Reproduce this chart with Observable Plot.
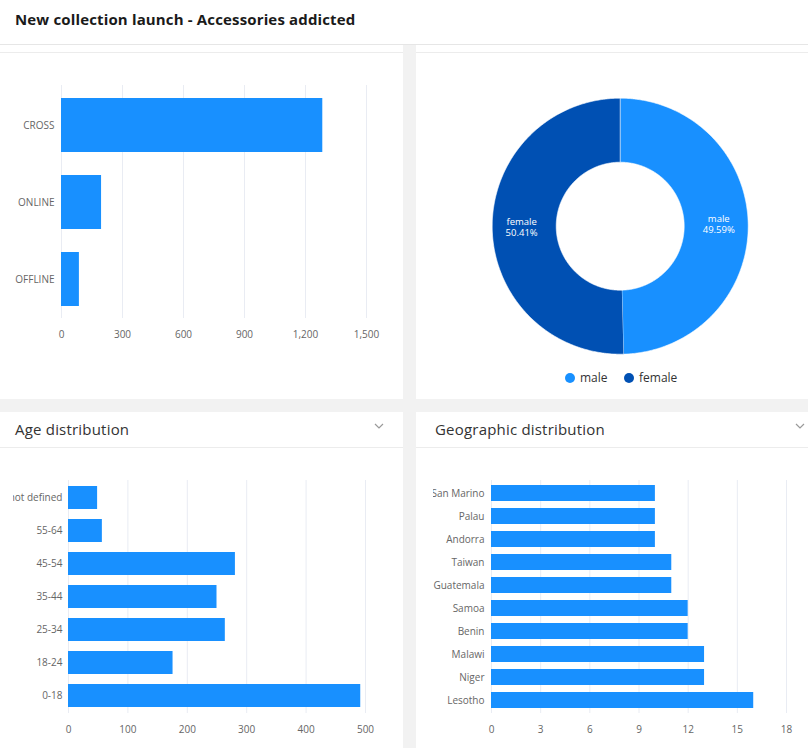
<!DOCTYPE html>
<html><head><meta charset="utf-8">
<script src="https://cdn.jsdelivr.net/npm/d3@7"></script>
<script src="https://cdn.jsdelivr.net/npm/@observablehq/plot@0.6"></script>
<style>
html,body{margin:0;padding:0}
body{width:808px;height:748px;overflow:hidden;background:#f2f2f2;position:relative;font-family:"Open Sans",sans-serif}
.abs{position:absolute}
.panel{position:absolute;background:#fff}
.hline{position:absolute;height:1px;background:#ececec}
.hdr{position:absolute;font-size:15px;color:#333;letter-spacing:0.2px}
.chev{position:absolute}
.clip{position:absolute;overflow:hidden}
.leg{position:absolute;font-size:12px;color:#333;display:flex;align-items:center}
.leg i{display:inline-block;width:10px;height:10px;border-radius:50%;margin-right:5px}
</style></head>
<body>
<div class="abs" style="left:0;top:0;width:808px;height:44px;background:#fff;border-bottom:1px solid #e6e6e6"></div>
<div class="abs" style="left:15px;top:9px;font-size:15px;font-weight:700;color:#1a1a1a;letter-spacing:0.15px">New collection launch - Accessories addicted</div>

<div class="panel" style="left:0;top:45px;width:403px;height:354px"></div>
<div class="panel" style="left:416px;top:45px;width:392px;height:354px"></div>
<div class="hline" style="left:0;top:52px;width:403px"></div>
<div class="hline" style="left:416px;top:52px;width:392px"></div>

<div class="panel" style="left:0;top:412px;width:403px;height:336px"></div>
<div class="panel" style="left:416px;top:412px;width:392px;height:336px"></div>
<div class="hline" style="left:0;top:447px;width:403px"></div>
<div class="hline" style="left:416px;top:447px;width:392px"></div>
<div class="hdr" style="left:15px;top:419px">Age distribution</div>
<div class="hdr" style="left:435px;top:419px">Geographic distribution</div>
<svg class="chev" style="left:374px;top:423px" width="10" height="7"><polyline points="1,1 5,5 9,1" fill="none" stroke="#9a9a9a" stroke-width="1.2"/></svg>
<svg class="chev" style="left:795px;top:423px" width="10" height="7"><polyline points="1,1 5,5 9,1" fill="none" stroke="#9a9a9a" stroke-width="1.2"/></svg>

<div id="c1" class="clip" style="left:0;top:60px;width:403px;height:300px"></div>
<div id="c2" class="clip" style="left:416px;top:60px;width:392px;height:300px"></div>
<div id="c3" class="clip" style="left:13px;top:460px;width:390px;height:288px"></div>
<div id="c4" class="clip" style="left:433px;top:460px;width:375px;height:288px"></div>
<div id="legend"></div>

<script>
// ---- data ----
const channelCats = ["CROSS", "ONLINE", "OFFLINE"];
const channelValues = [1285, 197, 88];
const channelTicks = [0, 300, 600, 900, 1200, 1500];

const genderCats = ["male", "female"];
const genderPct = [49.59, 50.41];
const genderColors = ["#1890ff", "#0050b3"];

const ageCats = ["not defined", "55-64", "45-54", "35-44", "25-34", "18-24", "0-18"];
const ageValues = [49, 57, 281, 250, 264, 176, 492];
const ageTicks = [0, 100, 200, 300, 400, 500];

const geoCats = ["San Marino", "Palau", "Andorra", "Taiwan", "Guatemala", "Samoa", "Benin", "Malawi", "Niger", "Lesotho"];
const geoValues = [10, 10, 10, 11, 11, 12, 12, 13, 13, 16];
const geoTicks = [0, 3, 6, 9, 12, 15, 18];

const BAR = "#1890ff";
const GRID = "#e9ecf3";
const axisStyle = {fontFamily: "'Open Sans', sans-serif", fontSize: "10px", color: "#666", background: "transparent", overflow: "visible"};
const fmt = d3.format(",");

function barChart(cats, values, ticks, o) {
  const data = cats.map((c, i) => ({cat: c, value: values[i]}));
  return Plot.plot({
    width: o.width, height: o.height,
    marginLeft: o.ml, marginRight: o.mr, marginTop: o.mt, marginBottom: o.mb,
    style: axisStyle,
    x: {domain: [ticks[0], ticks[ticks.length - 1]], ticks: ticks, tickSize: 0, tickPadding: o.xpad, tickFormat: d => fmt(d), label: null},
    y: {domain: cats, paddingInner: 0.3, paddingOuter: 0.15, tickSize: 0, tickPadding: o.ypad, label: null},
    marks: [
      Plot.ruleX(ticks, {x: d => d, stroke: GRID, strokeWidth: 1}),
      Plot.barX(data, {x: "value", y: "cat", fill: BAR})
    ]
  });
}

document.getElementById("c1").appendChild(barChart(channelCats, channelValues, channelTicks,
  {width: 403, height: 298, ml: 61, mr: 37, mt: 25, mb: 40, xpad: 12, ypad: 7}));

document.getElementById("c3").appendChild(barChart(ageCats, ageValues, ageTicks,
  {width: 390, height: 288, ml: 55, mr: 38, mt: 20, mb: 35, xpad: 12, ypad: 6}));

document.getElementById("c4").appendChild(barChart(geoCats, geoValues, geoTicks,
  {width: 375, height: 288, ml: 58, mr: 22, mt: 20, mb: 35, xpad: 12, ypad: 7}));

// ---- donut ----
const R1 = 1, R0 = 0.5;
const total = d3.sum(genderPct);
let acc = 0;
const slices = genderCats.map((c, i) => {
  const a0 = acc / total * 2 * Math.PI;
  acc += genderPct[i];
  const a1 = acc / total * 2 * Math.PI;
  return {c, a0, a1, pct: genderPct[i], color: genderColors[i]};
});
function arcPoints(s) {
  const n = Math.max(2, Math.ceil((s.a1 - s.a0) / (Math.PI / 360)));
  const angs = d3.range(n + 1).map(k => s.a0 + (s.a1 - s.a0) * k / n);
  const outer = angs.map(a => ({x: R1 * Math.sin(a), y: R1 * Math.cos(a)}));
  const inner = angs.slice().reverse().map(a => ({x: R0 * Math.sin(a), y: R0 * Math.cos(a)}));
  return outer.concat(inner);
}
const midX = s => 0.77 * Math.sin((s.a0 + s.a1) / 2);
const midY = s => 0.77 * Math.cos((s.a0 + s.a1) / 2);
const cx = 203.7, cy = 165.7, rad = 128;
const donut = Plot.plot({
  width: 392, height: 300,
  style: {fontFamily: "'Open Sans', sans-serif", background: "transparent", overflow: "visible"},
  x: {domain: [-1, 1], range: [cx - rad, cx + rad], axis: null},
  y: {domain: [-1, 1], range: [cy + rad, cy - rad], axis: null},
  marks: [
    ...slices.map(s => Plot.line(arcPoints(s), {x: "x", y: "y", fill: s.color, stroke: "#fff", strokeWidth: 0.6, curve: "linear"})),
    Plot.text(slices, {x: midX, y: midY, text: s => s.c, dy: -5.5, fill: "#fff", fontSize: 9.5}),
    Plot.text(slices, {x: midX, y: midY, text: s => `${s.pct.toFixed(2)}%`, dy: 5.5, fill: "#fff", fontSize: 9.5})
  ]
});
document.getElementById("c2").appendChild(donut);

// legend
const leg = document.getElementById("legend");
const legX = [565, 624];
genderCats.forEach((c, i) => {
  const d = document.createElement("div");
  d.className = "leg";
  d.style.left = legX[i] + "px";
  d.style.top = "369px";
  d.innerHTML = `<i style="background:${genderColors[i]}"></i>${c}`;
  leg.appendChild(d);
});
</script>
</body></html>
